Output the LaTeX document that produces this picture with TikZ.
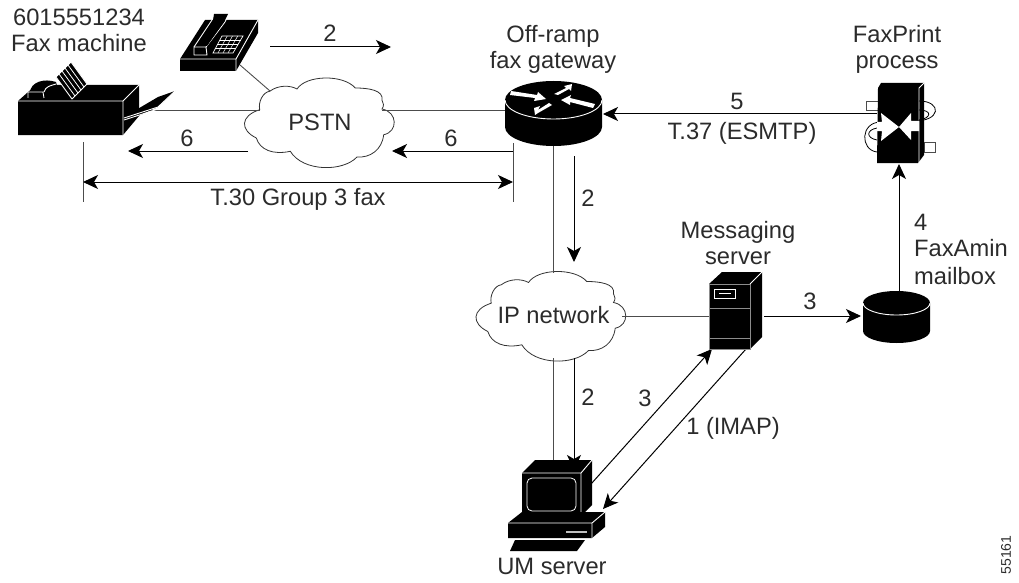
\documentclass[tikz,border=0pt]{standalone}
\usepackage{fontspec}
\setmainfont{Liberation Sans}
\usetikzlibrary{arrows.meta}
\definecolor{ink}{gray}{0.17}
\newcommand{\cloudoutline}[2]{%
  \draw[black!80,line width=0.8pt,shift={(#1,#2)}]
    (-48.3,-30.7) .. controls (-40,-37) and (-28,-37) .. (-21,-33)
    .. controls (-12,-47) and (25,-48) .. (37.3,-34)
    .. controls (50,-34) and (66,-32) .. (64,-21.7)
    .. controls (66,-19) and (66,-16) .. (64,-13)
    .. controls (80,-10) and (80,10) .. (65.7,12.7)
    .. controls (64,28) and (52,36) .. (39,35)
    .. controls (25,50) and (-15,50) .. (-27.7,29.3)
    .. controls (-45,33) and (-58,28) .. (-61.7,16)
    .. controls (-78,8) and (-78,-6) .. (-58.3,-12.3)
    .. controls (-60,-20) and (-55,-30) .. cycle;}
\tikzset{
  lbl/.style={font=\fontsize{23.7}{25}\selectfont,text=ink,inner sep=0pt,align=center},
  plain/.style={draw=black!70,line width=0.9pt},
  arw/.style={draw=black,line width=1pt,-{Stealth[length=15pt,width=14pt,inset=4pt]}},
  dbl/.style={draw=black,line width=1pt,{Stealth[length=15pt,width=14pt,inset=4pt]}-{Stealth[length=15pt,width=14pt,inset=4pt]}},
  solid3d/.style={fill=black,draw=white,line width=0.9pt,line join=round},
  edge3d/.style={draw=white,line width=0.9pt},
  anchorbox/.style={inner sep=0pt,outer sep=0pt}
}
\begin{document}
\begin{tikzpicture}[x=1pt,y=-1pt]
\useasboundingbox (0,0) rectangle (1019,583);
% ---- named device boxes
\node[anchorbox,minimum width=157pt,minimum height=73pt] (fax) at (96,98) {};
\node[anchorbox,minimum width=78pt,minimum height=52pt] (phone) at (219,45) {};
\node[anchorbox,minimum width=97pt,minimum height=64pt] (router) at (553,113) {};
\node[anchorbox,minimum width=69pt,minimum height=80pt] (fp) at (900,123) {};
\node[anchorbox,minimum width=67pt,minimum height=52pt] (disk) at (896.5,317) {};
\node[anchorbox,minimum width=53pt,minimum height=77pt] (srv) at (735,310) {};
\node[anchorbox,minimum width=97pt,minimum height=91pt] (um) at (556,505) {};
% ---- clouds
\cloudoutline{318}{122}
\cloudoutline{549.5}{315.5}
\node[lbl] (pstn) at (320,122) {PSTN};
\node[lbl] (ipn) at (553.5,315) {IP network};
% ---- connector ends
\coordinate (faxout) at (150,110);
\coordinate (pstnW) at (260,110);
\coordinate (pstnE) at (382,110);
\coordinate (routerW) at (505,110);
\coordinate (phoneOut) at (240,65);
\coordinate (pstnNW) at (270,91);
\coordinate (routerS) at (553,138);
\coordinate (ipnN) at (553,273);
\coordinate (ipnS) at (553,358);
\coordinate (umN) at (553,497);
\coordinate (ipnE) at (622,316);
\coordinate (srvW) at (709,316);
\coordinate (srvE) at (764,316);
\coordinate (diskW) at (861,316);
\coordinate (diskN) at (899,292);
\coordinate (fpS) at (899,164);
\coordinate (fpW) at (877,114);
\coordinate (routerE) at (603,114);
\coordinate (a2s) at (270,47);
\coordinate (a2e) at (391,47);
\coordinate (a6as) at (248,151);
\coordinate (a6ae) at (128,151);
\coordinate (a6bs) at (513,151);
\coordinate (a6be) at (392,151);
\coordinate (t1) at (83,142);
\coordinate (t2) at (83,202);
\coordinate (t3) at (513,143);
\coordinate (t4) at (513,202);
\coordinate (ta) at (83,182);
\coordinate (tb) at (513,182);
\coordinate (d1s) at (574,156);
\coordinate (d1e) at (574,262);
\coordinate (d2s) at (574,358);
\coordinate (d2e) at (574,470);
\coordinate (umA) at (591,484);
\coordinate (srvA) at (712,349);
\coordinate (srvB) at (746,349);
\coordinate (umB) at (603,509);
% ---- connectors
\draw[plain] (faxout) -- (pstnW);
\draw[plain] (pstnE) -- (routerW);
\draw[plain] (phoneOut) -- (pstnNW);
\draw[plain] (routerS) -- (ipnN);
\draw[plain] (ipnS) -- (umN);
\draw[plain] (ipnE) -- (srvW);
\draw[arw] (srvE) -- (diskW);
\draw[arw] (diskN) -- (fpS);
\draw[arw] (fpW) -- (routerE);
\draw[arw] (a2s) -- (a2e);
\draw[arw] (a6as) -- (a6ae);
\draw[arw] (a6bs) -- (a6be);
\draw[plain] (t1) -- (t2);
\draw[plain] (t3) -- (t4);
\draw[dbl] (ta) -- (tb);
\draw[arw] (d1s) -- (d1e);
\draw[arw] (d2s) -- (d2e);
\draw[arw] (umA) -- (srvA);
\draw[arw] (srvB) -- (umB);
% ---- fax machine
\fill (18,101) -- (36,85) -- (139,85) -- (139,116) -- (123,135) -- (18,135) -- cycle;
\draw[edge3d] (123,135) -- (123,101) -- (139,85) (18,101) -- (123,101);
\fill (124,117) -- (158,97) -- (175,91) -- (158,107) -- (125,122) -- cycle;
\draw[edge3d] (124,118) -- (158,107) -- (175,91) (124,120) -- (158,109);
\fill[black] (30,92) .. controls (31,82) and (44,78) .. (56,82) -- (60,98) -- (30,98) -- cycle;
\draw[edge3d] (28,98) -- (28,92) -- (43,92) -- (44,98) (44,92) .. controls (46,86) and (50,86) .. (56,84);
\fill[solid3d] (56,77) -- (71,62) -- (87,84) -- (72,99) -- cycle;
\foreach \i in {1,...,4}{\draw[white,line width=0.8pt] ({56+\i*3},{77-\i*3}) -- ({72+\i*3},{99-\i*3});}
% ---- telephone
\fill (180,59) -- (205,20) -- (258,20) -- (258,33) -- (236,71) -- (180,71) -- cycle;
\draw[edge3d] (180,59) -- (236,59) -- (258,20) (236,59) -- (236,71);
\fill[solid3d] (194,47) -- (206,47) -- (207,55) -- (194,55) -- cycle;
\draw[edge3d] (194,47) -- (212,20) -- (214,13) -- (229,13) -- (225,22) -- (206,47);
\fill[black] (214,14) -- (228,14) -- (224,22) -- (207,46) -- (196,46) -- (213,20) -- cycle;
\draw[white,line width=0.7pt] (213,53) -- (233,53) -- (243,36) -- (222,36) -- cycle;
\foreach \i in {1,2,3}{\draw[white,line width=0.5pt] ({213+\i*2.25},{53-\i*4.25}) -- ({233+\i*2.5},{53-\i*4.25});}
\foreach \i in {1,2,3}{\draw[white,line width=0.5pt] ({213+\i*5},53) -- ({222+\i*5.25},36);}
% ---- router
\fill (505,100) arc[start angle=180,end angle=360,x radius=48.5,y radius=19] -- (602,127) arc[start angle=0,end angle=180,x radius=48.5,y radius=19] -- cycle;
\draw[edge3d] (505,100) arc[start angle=180,end angle=0,x radius=48.5,y radius=19];
\fill[white] (511,91) -- (537,95) -- (538,92) -- (546,99) -- (534,101) -- (535,98) -- (510,95) -- cycle;
\fill[white] (554,94) -- (566,88) -- (564,86) -- (572,84) -- (571,91) -- (569,89) -- (558,95) -- cycle;
\fill[white] (595,104) -- (570,98) -- (571,95) -- (561,100) -- (570,105) -- (570,102) -- (593,108) -- cycle;
\fill[white] (549,103) -- (538,110) -- (540,106) -- (534,108) -- (535,115) -- (538,113) -- (552,105) -- cycle;
% ---- FaxPrint process
\draw[fill=white,draw=black!70,line width=0.8pt] (866,101) rectangle (878,110);
\draw[fill=white,draw=black!70,line width=0.8pt] (924,142) rectangle (935,152);
\fill (878,88) -- (881,83) -- (924,83) -- (924,155) -- (918,163) -- (877,163) -- cycle;
\draw[edge3d] (919,163) -- (919,88) -- (924,83);
\draw[black,line width=0.8pt] (881,122) .. controls (860,122) and (860,150) .. (877,152);
\draw[black,line width=0.8pt] (877,128) .. controls (866,130) and (866,138) .. (877,140);
\draw[black,line width=0.8pt] (919,101) .. controls (942,101) and (942,122) .. (912,121);
\draw[black,line width=0.8pt] (919,110) .. controls (932,110) and (932,118) .. (919,120);
\fill[white] (881,113) -- (899,127) -- (881,141) -- (882,131) -- (877,131) -- (877,122) -- (882,122) -- cycle;
\fill[white] (911,113) -- (899,127) -- (911,140) -- (911,131) -- (919,131) -- (919,121) -- (911,121) -- cycle;
% ---- mailbox disk
\fill (863,303) arc[start angle=180,end angle=360,x radius=33.5,y radius=12] -- (930,331) arc[start angle=0,end angle=180,x radius=33.5,y radius=12] -- cycle;
\draw[edge3d] (863,303) arc[start angle=180,end angle=0,x radius=33.5,y radius=12];
% ---- messaging server
\fill (709,284) -- (722,272) -- (762,272) -- (762,337) -- (750,349) -- (709,349) -- cycle;
\draw[draw=black!45,line width=0.9pt] (709,349) -- (709,284) -- (750,284) -- (750,349) -- cycle (709,308) -- (750,308) (709,338) -- (750,338);
\draw[white,line width=0.8pt] (750,284) -- (762,272);
\draw[white,line width=0.8pt] (714,289) rectangle (735,298);
\draw[white,line width=0.8pt] (719,293.5) -- (731,293.5);
% ---- UM server
\fill (522,473) -- (535,460) -- (592,460) -- (592,505) -- (581,516) -- (522,516) -- cycle;
\draw[edge3d] (522,473) -- (581,473) -- (592,460) (581,473) -- (581,516);
\draw[white,line width=0.8pt,rounded corners=5pt] (527,478) rectangle (576,511);
\fill (508,523) -- (522,512) -- (605,512) -- (605,527) -- (592,538) -- (508,538) -- cycle;
\draw[edge3d] (508,523) -- (592,523) -- (605,512) (592,523) -- (592,538);
\draw[draw=black!25,line width=1.6pt] (566,532) -- (587,532);
\fill (515,540) -- (585,540) -- (577,551) -- (510,551) -- cycle;
% ---- labels
\node[lbl] (l1) at (79,30) {6015551234\\[1pt]Fax machine};
\node[lbl] (l2) at (330,33) {2};
\node[lbl] (l3) at (187,138) {6};
\node[lbl] (l4) at (451,138) {6};
\node[lbl] (l5) at (298,199) {T.30 Group 3 fax};
\node[lbl] (l6) at (553,49) {Off-ramp\\[1pt]fax gateway};
\node[lbl] (l7) at (897,49) {FaxPrint\\[1pt]process};
\node[lbl] (l8) at (737,101) {5};
\node[lbl] (l9) at (742,133) {T.37 (ESMTP)};
\node[lbl] (l10) at (588,198) {2};
\node[lbl] (l11) at (588,397) {2};
\node[lbl] (l12) at (738,243) {Messaging\\[1pt]server};
\node[lbl] (l13) at (810,301) {3};
\node[lbl,anchor=west] (l14) at (914,222) {4};
\node[lbl,anchor=west] (l15) at (914,248) {FaxAmin};
\node[lbl,anchor=west] (l16) at (914,276) {mailbox};
\node[lbl] (l17) at (645,398) {3};
\node[lbl] (l18) at (733,428) {1 (IMAP)};
\node[lbl] (l19) at (552,566) {UM server};
\node[lbl,rotate=90,font=\fontsize{14}{16}\selectfont] (l20) at (1006,555) {55161};
\end{tikzpicture}
\end{document}
